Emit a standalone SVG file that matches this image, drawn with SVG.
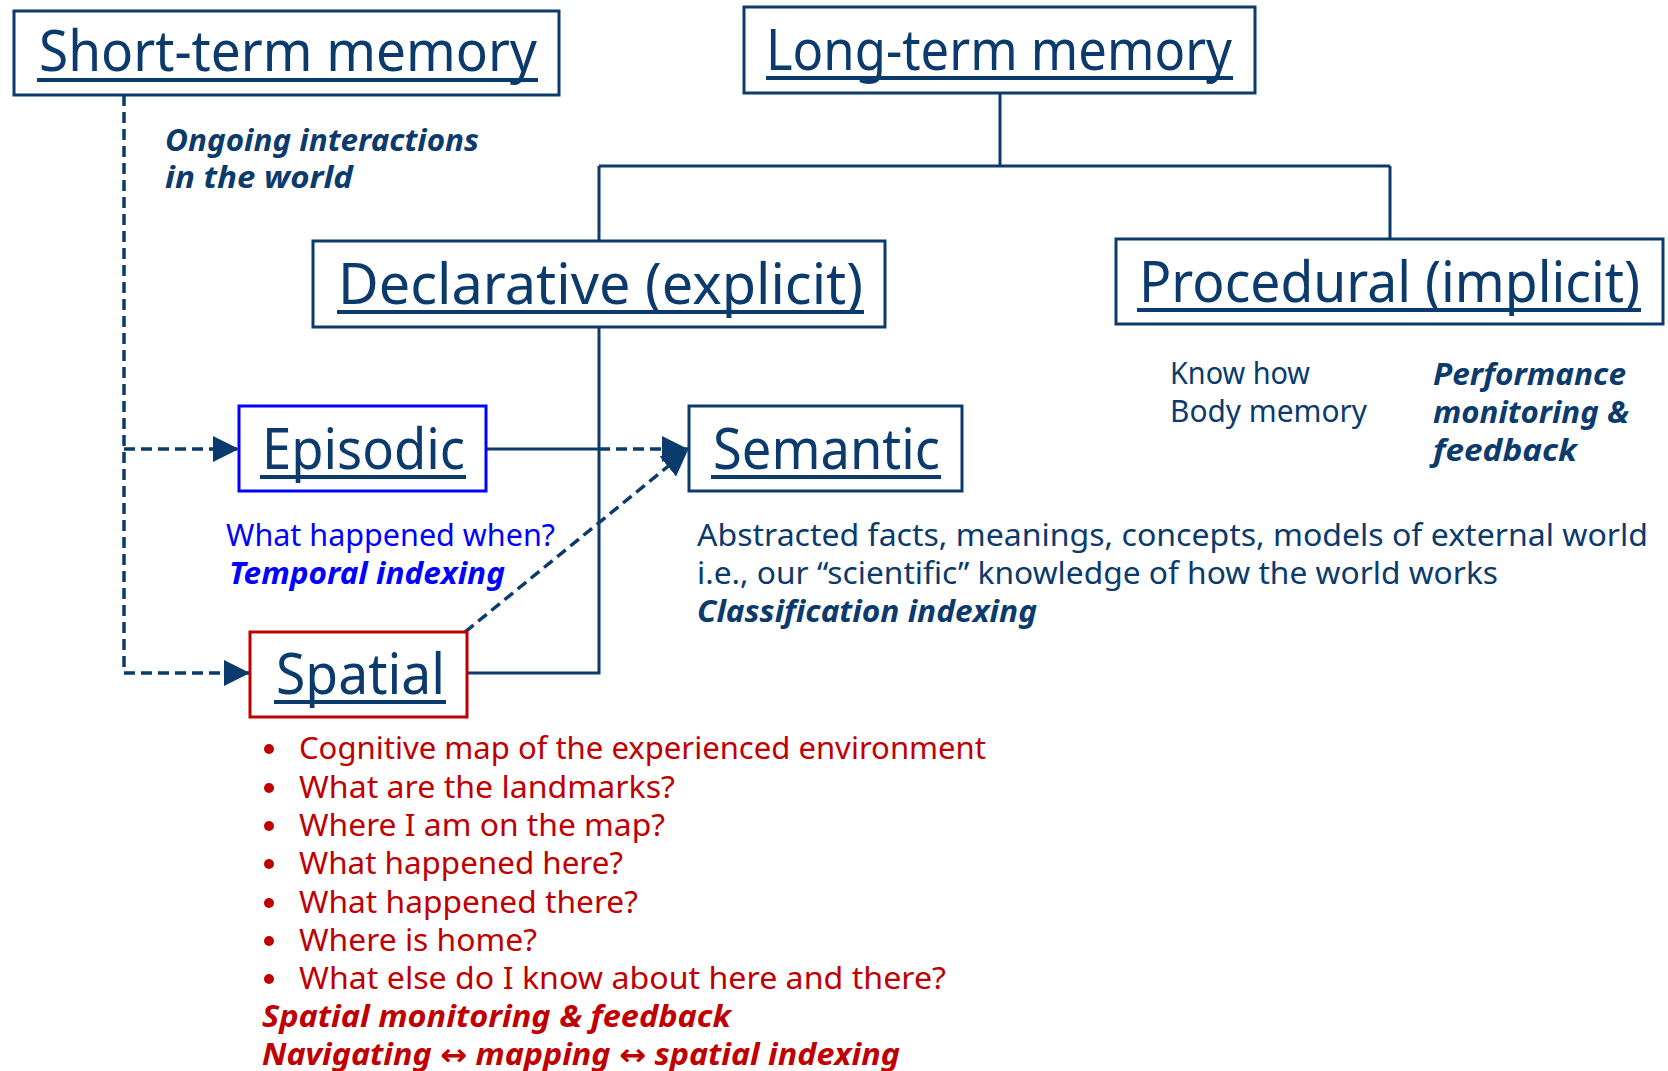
<svg xmlns="http://www.w3.org/2000/svg" width="1668" height="1071" viewBox="0 0 1668 1071">
<style>
  .box{fill:#fff;stroke:#0B3A6C;stroke-width:3}
  .hdr{font-family:"Noto Sans","DejaVu Sans",sans-serif;font-size:56px;fill:#0B3A6C}
  .ul{stroke:#0B3A6C;stroke-width:4}
  .t{font-family:"Noto Sans","DejaVu Sans",sans-serif;font-size:30px}
  .bi{font-weight:bold;font-style:italic}
  .navy{fill:#0B3A6C}
  .blue{fill:#0000FF}
  .red{fill:#C00000}
  .ln{fill:none;stroke:#0B3A6C;stroke-width:3}
  .dash{fill:none;stroke:#0B3A6C;stroke-width:3.5;stroke-dasharray:11 6}
</style>
<defs>
  <marker id="arr" viewBox="0 0 10 10" markerUnits="userSpaceOnUse" markerWidth="26" markerHeight="26" refX="10" refY="5" orient="auto">
    <path d="M0,0 L10,5 L0,10 z" fill="#0B3A6C"/>
  </marker>
</defs>

<g id="connectors">
  <path class="ln" d="M1000,93 V166 M599,166 H1390 M599,166 V241 M1390,166 V239"/>
  <path class="ln" d="M599,327 V673 H467"/>
  <path class="ln" d="M486,449 H599"/>
  <path class="dash" d="M599,449 H688" marker-end="url(#arr)"/>
  <path class="dash" d="M465,632 L688,450" marker-end="url(#arr)"/>
  <path class="dash" d="M124,95 V673"/>
  <path class="dash" d="M124,449 H239" marker-end="url(#arr)"/>
  <path class="dash" d="M124,673 H250" marker-end="url(#arr)"/>
</g>

<g id="short-term">
  <rect class="box" x="14" y="11" width="545" height="84"/>
  <text class="hdr" x="39" y="71" textLength="498" lengthAdjust="spacingAndGlyphs">Short-term memory</text>
  <line class="ul" x1="37" y1="80" x2="538" y2="80"/>
  <text class="t bi navy" x="165" y="151" textLength="314" lengthAdjust="spacingAndGlyphs">Ongoing interactions</text>
  <text class="t bi navy" x="165" y="188" textLength="188" lengthAdjust="spacingAndGlyphs">in the world</text>
</g>

<g id="long-term">
  <rect class="box" x="744" y="7" width="511" height="86"/>
  <text class="hdr" x="766" y="70" textLength="466" lengthAdjust="spacingAndGlyphs">Long-term memory</text>
  <line class="ul" x1="766" y1="78" x2="1233" y2="78"/>
</g>

<g id="declarative">
  <rect class="box" x="313" y="241" width="572" height="86"/>
  <text class="hdr" x="338" y="304" textLength="525" lengthAdjust="spacingAndGlyphs">Declarative (explicit)</text>
  <line class="ul" x1="337" y1="312" x2="864" y2="312"/>
</g>

<g id="procedural">
  <rect class="box" x="1116" y="239" width="547" height="85"/>
  <text class="hdr" x="1139" y="302" textLength="501" lengthAdjust="spacingAndGlyphs">Procedural (implicit)</text>
  <line class="ul" x1="1137" y1="310" x2="1641" y2="310"/>
  <text class="t navy" x="1170" y="384" textLength="140" lengthAdjust="spacingAndGlyphs">Know how</text>
  <text class="t navy" x="1170" y="422" textLength="197" lengthAdjust="spacingAndGlyphs">Body memory</text>
  <text class="t bi navy" x="1433" y="385" textLength="193" lengthAdjust="spacingAndGlyphs">Performance</text>
  <text class="t bi navy" x="1433" y="423" textLength="196" lengthAdjust="spacingAndGlyphs">monitoring &amp;</text>
  <text class="t bi navy" x="1433" y="461" textLength="144" lengthAdjust="spacingAndGlyphs">feedback</text>
</g>

<g id="episodic">
  <rect x="239" y="406" width="247" height="85" fill="#fff" stroke="#0000FF" stroke-width="3"/>
  <text class="hdr" x="262" y="469" textLength="203" lengthAdjust="spacingAndGlyphs">Episodic</text>
  <line class="ul" x1="260" y1="477" x2="466" y2="477"/>
  <text class="t blue" x="226" y="546" textLength="329" lengthAdjust="spacingAndGlyphs">What happened when?</text>
  <text class="t bi blue" x="229" y="584" textLength="276" lengthAdjust="spacingAndGlyphs">Temporal indexing</text>
</g>

<g id="semantic">
  <rect class="box" x="689" y="406" width="273" height="85"/>
  <text class="hdr" x="713" y="469" textLength="227" lengthAdjust="spacingAndGlyphs">Semantic</text>
  <line class="ul" x1="711" y1="477" x2="941" y2="477"/>
  <text class="t navy" x="697" y="546" textLength="951" lengthAdjust="spacingAndGlyphs">Abstracted facts, meanings, concepts, models of external world</text>
  <text class="t navy" x="697" y="584" textLength="801" lengthAdjust="spacingAndGlyphs">i.e., our “scientific” knowledge of how the world works</text>
  <text class="t bi navy" x="697" y="622" textLength="340" lengthAdjust="spacingAndGlyphs">Classification indexing</text>
</g>

<g id="spatial">
  <rect x="250" y="632" width="217" height="85" fill="#fff" stroke="#C00000" stroke-width="3"/>
  <text class="hdr" x="276" y="694" textLength="169" lengthAdjust="spacingAndGlyphs">Spatial</text>
  <line class="ul" x1="274" y1="702" x2="446" y2="702"/>
  <g class="red">
    <circle cx="269" cy="749" r="5"/>
    <circle cx="269" cy="788" r="5"/>
    <circle cx="269" cy="826" r="5"/>
    <circle cx="269" cy="864" r="5"/>
    <circle cx="269" cy="903" r="5"/>
    <circle cx="269" cy="941" r="5"/>
    <circle cx="269" cy="979" r="5"/>
  </g>
  <text class="t red" x="299" y="759" textLength="687" lengthAdjust="spacingAndGlyphs">Cognitive map of the experienced environment</text>
  <text class="t red" x="299" y="798" textLength="376" lengthAdjust="spacingAndGlyphs">What are the landmarks?</text>
  <text class="t red" x="299" y="836" textLength="366" lengthAdjust="spacingAndGlyphs">Where I am on the map?</text>
  <text class="t red" x="299" y="874" textLength="324" lengthAdjust="spacingAndGlyphs">What happened here?</text>
  <text class="t red" x="299" y="913" textLength="339" lengthAdjust="spacingAndGlyphs">What happened there?</text>
  <text class="t red" x="299" y="951" textLength="238" lengthAdjust="spacingAndGlyphs">Where is home?</text>
  <text class="t red" x="299" y="989" textLength="647" lengthAdjust="spacingAndGlyphs">What else do I know about here and there?</text>
  <text class="t bi red" x="262" y="1027" textLength="469" lengthAdjust="spacingAndGlyphs">Spatial monitoring &amp; feedback</text>
  <text class="t bi red" x="262" y="1065" textLength="638" lengthAdjust="spacingAndGlyphs">Navigating ↔ mapping ↔ spatial indexing</text>
</g>
</svg>
